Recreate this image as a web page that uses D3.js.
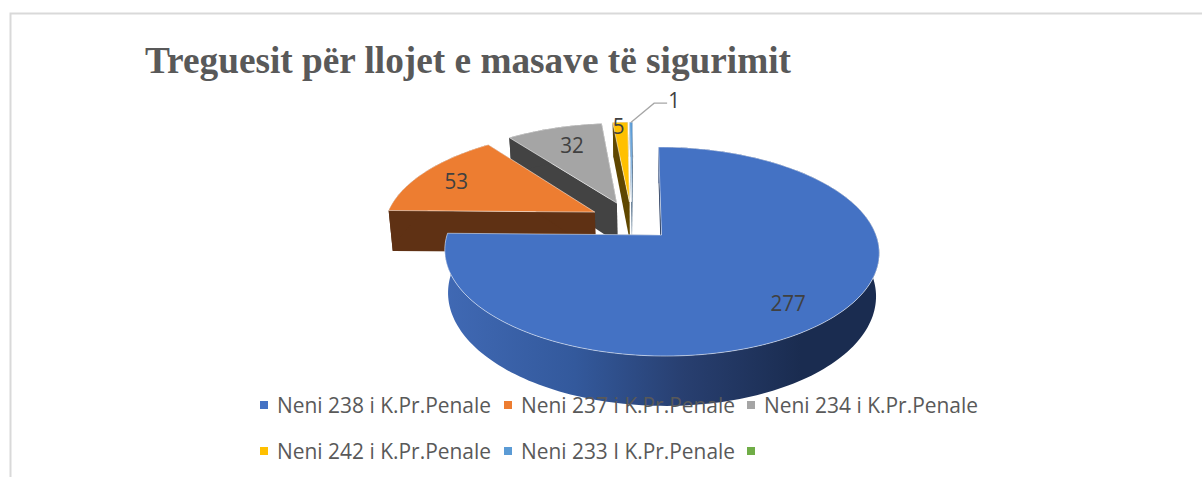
<!DOCTYPE html>
<html><head><meta charset="utf-8">
<script src="https://cdn.jsdelivr.net/npm/d3@7"></script>
<style>html,body{margin:0;padding:0;background:#fff;overflow:hidden}svg{display:block}</style>
</head><body><div id="c"></div>
<script>
const categories = ["Neni 238 i K.Pr.Penale","Neni 237 i K.Pr.Penale","Neni 234 i K.Pr.Penale","Neni 242 i K.Pr.Penale","Neni 233 I K.Pr.Penale",""];
const values = [277,53,32,5,1,0];
const colors = ["#4472c4","#ed7d31","#a5a5a5","#ffc000","#5b9bd5","#70ad47"];
const wallColors = ["#1d3156","#5f3114","#434343","#5f4700","#2c4f70","#3a5a25"];
const titleText = "Treguesit për llojet e masave të sigurimit";
const labelRadius = [0.78,0.8,0.72,0.95,1];

const W=1202,H=477;
const svg=d3.select("#c").append("svg").attr("width",W).attr("height",H);
svg.append("path").attr("d","M10.5 477V13.5H1202").attr("fill","none").attr("stroke","#d9d9d9").attr("stroke-width",2);

// Oblique perspective projection of the pie plane
const explode=0.2, K=0.158, A=101.9, B=214.5, depth=42, apex=[661.5,235], vanishX=640, lowShrink=0.985;
const pie=d3.pie().sort(null).value(d=>d).startAngle(0).endAngle(2*Math.PI);
const arcs=pie(values);
const refMid=(arcs[0].startAngle+arcs[0].endAngle)/2;
const ref=[explode*Math.sin(refMid),-explode*Math.cos(refMid)];
function project(u,v,low){
  const uu=u-ref[0],vv=v-ref[1],s=1/(1-K*vv);
  const x=vanishX+(apex[0]-vanishX+B*uu)*s;
  return [low?apex[0]+(x-apex[0])*lowShrink:x, apex[1]+A*vv*s+(low?depth*s:0)];
}
function pt(d,ang,r,low){
  const m=(d.startAngle+d.endAngle)/2;
  return project(explode*Math.sin(m)+r*Math.sin(ang),-explode*Math.cos(m)-r*Math.cos(ang),low);
}
const line=d3.line();
const close=p=>line(p)+"Z";

const grad=svg.append("defs").append("linearGradient").attr("id","side")
  .attr("gradientUnits","userSpaceOnUse").attr("x1",445).attr("x2",879).attr("y1",0).attr("y2",0);
[[0,"#4069b4"],[0.3,"#33599c"],[0.55,"#283f70"],[0.82,"#1a2c50"],[1,"#1a2c50"]].forEach(s=>grad.append("stop").attr("offset",s[0]).attr("stop-color",s[1]));

const g=svg.append("g");
const order=[4,3,2,1,0];
order.forEach(i=>{
  const d=arcs[i]; if(d.value===0) return;
  const n=Math.max(4,Math.ceil((d.endAngle-d.startAngle)*40));
  const angs=d3.range(n+1).map(k=>d.startAngle+(d.endAngle-d.startAngle)*k/n);
  const top=angs.map(a=>pt(d,a,1,false)), low=angs.map(a=>pt(d,a,1,true));
  const c0=pt(d,0,0,false), c1=pt(d,0,0,true);
  [d.startAngle,d.endAngle].forEach(a=>{
    g.append("path").attr("d",close([c0,pt(d,a,1,false),pt(d,a,1,true),c1])).attr("fill",wallColors[i]);
  });
  g.append("path").attr("d",close(top.concat(low.slice().reverse())))
    .attr("fill",i===0?"url(#side)":wallColors[i]);
  g.append("path").attr("d",close([c0].concat(top))).attr("fill",colors[i])
    .attr("stroke","#fff").attr("stroke-opacity",0.65).attr("stroke-width",0.8);
});

const d5=arcs[4];
const mid5=(d5.startAngle+d5.endAngle)/2;
const leaderStart=pt(d5,mid5,1,false);
svg.append("path").attr("d",line([leaderStart,[leaderStart[0]+23,leaderStart[1]-19],[leaderStart[0]+36,leaderStart[1]-19]]))
  .attr("fill","none").attr("stroke","#a6a6a6").attr("stroke-width",1.3);

const labelOffsets=[[-4,6],[-1,1],[2,-2],[-2,0],[43,-22]];
arcs.forEach((d,i)=>{
  if(d.value===0) return;
  const p=pt(d,(d.startAngle+d.endAngle)/2,labelRadius[i],false);
  svg.append("text").attr("x",p[0]+labelOffsets[i][0]).attr("y",p[1]+labelOffsets[i][1]+8)
    .attr("text-anchor","middle").attr("font-family","'Open Sans'").attr("font-size",22).attr("fill","#404040")
    .attr("textLength",String(d.value).length*11.8).attr("lengthAdjust","spacingAndGlyphs").text(d.value);
});

svg.append("text").attr("x",145).attr("y",73).attr("font-family","'Liberation Serif'").attr("font-weight","bold")
  .attr("font-size",37).attr("fill","#595959").attr("textLength",646).attr("lengthAdjust","spacingAndGlyphs").text(titleText);

const legendCols=d3.scaleOrdinal().domain([0,1,2]).range([260,504,747]);
const legendRows=d3.scaleOrdinal().domain([0,1]).range([405,451]);
categories.forEach((c,i)=>{
  const x=legendCols(i%3), y=legendRows(Math.floor(i/3));
  svg.append("rect").attr("x",x).attr("y",y-4).attr("width",8).attr("height",8).attr("fill",colors[i]);
  if(c) svg.append("text").attr("x",x+17).attr("y",y+8).attr("font-family","'Open Sans'").attr("font-size",22)
    .attr("fill","#595959").attr("textLength",214).attr("lengthAdjust","spacingAndGlyphs").text(c);
});
</script></body></html>
